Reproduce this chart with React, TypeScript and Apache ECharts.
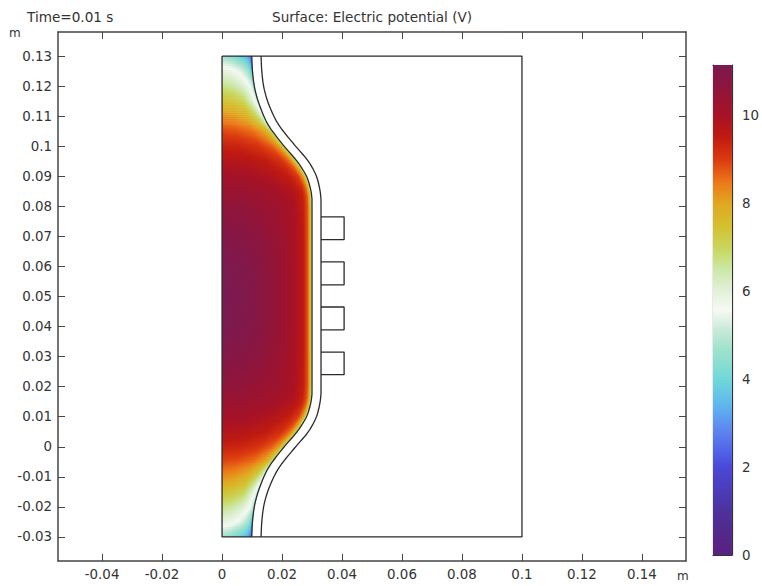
import React, { useEffect, useRef } from "react";
import * as echarts from "echarts";

const xTicks = [-0.04, -0.02, 0, 0.02, 0.04, 0.06, 0.08, 0.1, 0.12, 0.14];
const yTicks = [-0.03, -0.02, -0.01, 0, 0.01, 0.02, 0.03, 0.04, 0.05, 0.06, 0.07, 0.08, 0.09, 0.1, 0.11, 0.12, 0.13];
const barTicks = [0, 2, 4, 6, 8, 10];
const barMax = 11.16;

const mapValues = [0, 0.73, 1.33, 2, 2.32, 2.77, 3.38, 4, 4.67, 5.12, 5.58, 5.97, 6.5, 6.95, 7.48, 8, 8.47, 9, 9.53, 10, 10.75, 11.16];
const mapColors = ["#5a2080", "#502c90", "#4c38b0", "#4a48d8", "#5060e8", "#5c80f0", "#5fb4f0", "#70d8d8", "#9ee2cc", "#c8ead8", "#f6f9f2", "#e4f2dc", "#cce8a8", "#c8d860", "#d4c030", "#e0a820", "#ec7a18", "#dc3a10", "#c01a10", "#a81225", "#8a1540", "#7a1a52"];

const outerBox = [[0, 0.13], [0.1, 0.13], [0.1, -0.03], [0, -0.03], [0, 0.13]];
const innerWall = [[0.0099, 0.13], [0.0102, 0.1244], [0.011, 0.1188], [0.0127, 0.1131], [0.0154, 0.1071], [0.0199, 0.101], [0.0242, 0.096], [0.0263, 0.0932], [0.0282, 0.0899], [0.0293, 0.0866], [0.0299, 0.0833], [0.03, 0.0788], [0.03, 0.05], [0.03, 0.0212], [0.0299, 0.0167], [0.0293, 0.0134], [0.0282, 0.0101], [0.0263, 0.0068], [0.0242, 0.004], [0.0199, -0.001], [0.0154, -0.0071], [0.0127, -0.0131], [0.011, -0.0188], [0.0102, -0.0244], [0.0099, -0.03]];
const outerWall = [[0.013, 0.13], [0.0133, 0.1244], [0.0141, 0.1188], [0.0159, 0.1131], [0.0189, 0.1071], [0.0237, 0.101], [0.028, 0.096], [0.0299, 0.0932], [0.0315, 0.0899], [0.0324, 0.0866], [0.0329, 0.0833], [0.033, 0.0788], [0.033, 0.05], [0.033, 0.0212], [0.0329, 0.0167], [0.0324, 0.0134], [0.0315, 0.0101], [0.0299, 0.0068], [0.028, 0.004], [0.0237, -0.001], [0.0189, -0.0071], [0.0159, -0.0131], [0.0141, -0.0188], [0.0133, -0.0244], [0.013, -0.03]];
const coilBoxes = [[0.0689, 0.0765], [0.0539, 0.0615], [0.0389, 0.0465], [0.024, 0.0315]];
const coilLeft = 0.033;
const coilRight = 0.0407;

// Fractions of the distance from the axis (x = 0) to the inner wall
const wallFractions = [0, 0.3, 0.6, 0.8, 0.9, 0.95, 0.98, 1];
const fieldY = [0.13, 0.125, 0.12, 0.115, 0.11, 0.105, 0.1, 0.095, 0.09, 0.085, 0.08, 0.07, 0.06, 0.05, 0.04, 0.03, 0.02, 0.015, 0.01, 0.005, 0, -0.005, -0.01, -0.015, -0.02, -0.025, -0.03];
const fieldV = [
  [4.7, 4.4, 3.9, 3.5, 3.0, 2.6, 2.3, 2.0],
  [5.95, 5.8, 5.4, 4.9, 4.4, 3.9, 3.4, 2.8],
  [6.7, 6.55, 6.2, 5.75, 5.4, 5.0, 4.5, 3.8],
  [7.5, 7.35, 7.05, 6.3, 5.7, 5.35, 5.0, 4.3],
  [8.3, 8.15, 7.8, 7.1, 6.5, 6.1, 5.7, 5.2],
  [8.9, 8.8, 8.55, 8.1, 7.6, 7.1, 6.6, 6.0],
  [9.4, 9.35, 9.1, 8.7, 8.2, 7.6, 7.1, 6.3],
  [9.8, 9.75, 9.5, 9.15, 8.6, 7.9, 7.2, 6.3],
  [10.1, 10.05, 9.8, 9.45, 9.0, 8.3, 7.4, 6.3],
  [10.35, 10.3, 10.1, 9.8, 9.4, 8.7, 7.6, 6.3],
  [10.6, 10.5, 10.25, 9.95, 9.5, 8.8, 7.6, 6.3],
  [10.95, 10.8, 10.4, 10.0, 9.6, 8.8, 7.6, 6.3],
  [11.12, 10.95, 10.5, 10.05, 9.6, 8.8, 7.6, 6.3],
  [11.16, 11.0, 10.5, 10.05, 9.6, 8.8, 7.6, 6.3],
  [11.12, 10.95, 10.5, 10.05, 9.6, 8.8, 7.6, 6.3],
  [10.95, 10.8, 10.4, 10.0, 9.6, 8.8, 7.6, 6.3],
  [10.6, 10.5, 10.25, 9.95, 9.5, 8.8, 7.6, 6.3],
  [10.35, 10.3, 10.1, 9.8, 9.4, 8.7, 7.6, 6.3],
  [10.1, 10.05, 9.8, 9.45, 9.0, 8.3, 7.4, 6.3],
  [9.8, 9.75, 9.5, 9.15, 8.6, 7.9, 7.2, 6.3],
  [9.4, 9.35, 9.1, 8.7, 8.2, 7.6, 7.1, 6.3],
  [8.9, 8.8, 8.55, 8.1, 7.6, 7.1, 6.6, 6.0],
  [8.3, 8.15, 7.8, 7.1, 6.5, 6.1, 5.7, 5.2],
  [7.5, 7.35, 7.05, 6.3, 5.7, 5.35, 5.0, 4.3],
  [6.7, 6.55, 6.2, 5.75, 5.4, 5.0, 4.5, 3.8],
  [5.95, 5.8, 5.4, 4.9, 4.4, 3.9, 3.4, 2.8],
  [4.7, 4.4, 3.9, 3.5, 3.0, 2.6, 2.3, 2.0],
];

const FONT = "DejaVu Sans";
const INK = "#333";
const FRAME = "#444";
const WALL = "#2b2b2b";

const hex = (c: string) => [1, 3, 5].map((i) => parseInt(c.slice(i, i + 2), 16));
const mapRgb = mapColors.map(hex);
function colorFor(v: number) {
  const t = Math.max(0, Math.min(barMax, v));
  let i = 0;
  while (i < mapValues.length - 2 && t > mapValues[i + 1]) i++;
  const f = (t - mapValues[i]) / (mapValues[i + 1] - mapValues[i]);
  const c = mapRgb[i].map((a, k) => Math.round(a + (mapRgb[i + 1][k] - a) * f));
  return `rgb(${c[0]},${c[1]},${c[2]})`;
}
function wallAt(y: number) {
  for (let i = 0; i < innerWall.length - 1; i++) {
    const [x0, y0] = innerWall[i];
    const [x1, y1] = innerWall[i + 1];
    if (y <= y0 && y >= y1) return x0 + ((x1 - x0) * (y0 - y)) / (y0 - y1 || 1);
  }
  return y > 0.05 ? innerWall[0][0] : innerWall[innerWall.length - 1][0];
}
function fieldAt(y: number, s: number) {
  let r = 0;
  while (r < fieldY.length - 2 && y < fieldY[r + 1]) r++;
  const fy = (fieldY[r] - y) / (fieldY[r] - fieldY[r + 1]);
  let c = 0;
  while (c < wallFractions.length - 2 && s > wallFractions[c + 1]) c++;
  const fs = (s - wallFractions[c]) / (wallFractions[c + 1] - wallFractions[c]);
  const a = fieldV[r][c] + (fieldV[r][c + 1] - fieldV[r][c]) * fs;
  const b = fieldV[r + 1][c] + (fieldV[r + 1][c + 1] - fieldV[r + 1][c]) * fs;
  return a + (b - a) * fy;
}
const shadeFractions = [0, 0.1, 0.2, 0.3, 0.4, 0.5, 0.6, 0.7, 0.75, 0.8, 0.85, 0.9, 0.925, 0.95, 0.965, 0.98, 0.99, 1];

const stripCount = 240;
const stripEdges = Array.from({ length: stripCount }, (_, i) => i);

// Catmull-Rom curve through screen points, so the walls pass through every read point
function curveThrough(pts: number[][]) {
  const out: number[][] = [];
  for (let i = 0; i < pts.length - 1; i++) {
    const p0 = pts[Math.max(0, i - 1)];
    const p1 = pts[i];
    const p2 = pts[i + 1];
    const p3 = pts[Math.min(pts.length - 1, i + 2)];
    const long = Math.abs(p2[1] - p1[1]) > 30;
    const steps = long ? 1 : 8;
    for (let k = 0; k < steps; k++) {
      const t = k / steps;
      if (long) {
        out.push(p1);
        continue;
      }
      const w = (a: number, b: number, c: number, d: number) =>
        0.5 * (2 * b + (c - a) * t + (2 * a - 5 * b + 4 * c - d) * t * t + (3 * b - a - 3 * c + d) * t * t * t);
      out.push([w(p0[0], p1[0], p2[0], p3[0]), w(p0[1], p1[1], p2[1], p3[1])]);
    }
  }
  out.push(pts[pts.length - 1]);
  return out;
}

const wallSeries = (wall: number[][]) => ({
  type: "custom",
  xAxisIndex: 0,
  yAxisIndex: 0,
  silent: true,
  z: 5,
  data: wall,
  renderItem: (params: any, api: any) => {
    if (params.dataIndex !== 0) return null;
    const pts = wall.map((p) => api.coord(p));
    return {
      type: "polyline",
      shape: { points: curveThrough(pts) },
      style: { fill: "none", stroke: WALL, lineWidth: 1.3, lineJoin: "round" },
    };
  },
});

const lineSeries = (data: number[][]) => ({
  type: "line",
  data,
  showSymbol: false,
  silent: true,
  z: 5,
  lineStyle: { color: WALL, width: 1.3 },
});

const axisText = { fontFamily: FONT, fontSize: 13.4, color: INK };
const headText = { fontFamily: FONT, fontSize: 13.6, color: INK, fontWeight: "normal" };

export default function App() {
  const ref = useRef<HTMLDivElement>(null);
  useEffect(() => {
    const chart = echarts.init(ref.current!, undefined, { renderer: "svg" });
    const xA = (position: string, labels: boolean) => ({
      type: "value",
      gridIndex: 0,
      position,
      min: -0.0547,
      max: 0.1547,
      splitLine: { show: false },
      axisLine: { show: true, onZero: false, lineStyle: { color: FRAME, width: 1.5 } },
      axisTick: { show: true, inside: true, length: 7, customValues: xTicks, lineStyle: { color: FRAME, width: 1 } },
      axisLabel: { show: labels, customValues: xTicks, margin: 7, formatter: (v: number) => String(v), ...axisText, hideOverlap: false },
    });
    const yA = (position: string, labels: boolean) => ({
      type: "value",
      gridIndex: 0,
      position,
      min: -0.038,
      max: 0.138,
      splitLine: { show: false },
      axisLine: { show: true, onZero: false, lineStyle: { color: FRAME, width: 1.5 } },
      axisTick: { show: true, inside: true, length: 7, customValues: yTicks, lineStyle: { color: FRAME, width: 1 } },
      axisLabel: { show: labels, customValues: yTicks, margin: 6, formatter: (v: number) => String(v), ...axisText, hideOverlap: false },
    });
    const barX = (position: string) => ({
      type: "value",
      gridIndex: 1,
      position,
      min: 0,
      max: 1,
      splitLine: { show: false },
      axisLine: { show: true, onZero: false, lineStyle: { color: "#333", width: 1.2 } },
      axisTick: { show: false },
      axisLabel: { show: false },
    });
    const barY = (position: string, labels: boolean) => ({
      type: "value",
      gridIndex: 1,
      position,
      min: 0,
      max: barMax,
      splitLine: { show: false },
      axisLine: { show: true, onZero: false, lineStyle: { color: "#333", width: 1.2 } },
      axisTick: { show: true, inside: true, length: 3.5, customValues: barTicks.slice(1), lineStyle: { color: "#222", width: 1 } },
      axisLabel: { show: labels, customValues: barTicks, margin: 10, formatter: (v: number) => String(v), ...axisText, hideOverlap: false },
    });

    const stripData = stripEdges.map((i) => [i]);
    const option: any = {
      animation: false,
      backgroundColor: "#fff",
      title: [
        { text: "Time=0.01 s", left: 27, top: 10, padding: 0, textStyle: headText },
        { text: "Surface: Electric potential (V)", left: 272, top: 10, padding: 0, textStyle: headText },
        { text: "m", left: 9, top: 27, padding: 0, textStyle: { ...headText, fontSize: 12 } },
        { text: "m", left: 677, top: 570, padding: 0, textStyle: { ...headText, fontSize: 12 } },
      ],
      grid: [
        { left: 58, top: 32, width: 628, height: 529, show: false },
        { left: 713, top: 65, width: 19, height: 490, show: false },
      ],
      xAxis: [xA("bottom", true), xA("top", false), barX("bottom"), barX("top")],
      yAxis: [yA("left", true), yA("right", false), barY("left", false), barY("right", true)],
      series: [
        {
          type: "custom",
          xAxisIndex: 0,
          yAxisIndex: 0,
          silent: true,
          clip: false,
          z: 2,
          data: stripData,
          renderItem: (_: any, api: any) => {
            const i = api.value(0);
            const span = fieldY[0] - fieldY[fieldY.length - 1];
            const y0 = fieldY[0] - (span * i) / stripCount;
            const y1 = fieldY[0] - (span * (i + 1)) / stripCount;
            const ym = (y0 + y1) / 2;
            const a = api.coord([0, y0]);
            const b = api.coord([wallAt(y0), y0]);
            const c = api.coord([wallAt(y1), y1]);
            const d = api.coord([0, y1]);
            const bottom = i < stripCount - 1 ? 0.7 : 0;
            const xEnd = api.coord([wallAt(ym), ym])[0];
            const stops = shadeFractions.map((s) => ({ offset: s, color: colorFor(fieldAt(ym, s)) }));
            return {
              type: "polygon",
              shape: { points: [a, b, [c[0], c[1] + bottom], [d[0], d[1] + bottom]] },
              style: { fill: new echarts.graphic.LinearGradient(a[0], 0, xEnd, 0, stops, true) },
            };
          },
        },
        {
          type: "custom",
          xAxisIndex: 2,
          yAxisIndex: 2,
          silent: true,
          z: 2,
          data: [[0, barMax]],
          renderItem: (_: any, api: any) => {
            const top = api.coord([0, api.value(1)]);
            const bot = api.coord([1, api.value(0)]);
            const stops = mapValues.map((v, k) => ({ offset: v / barMax, color: mapColors[k] }));
            return {
              type: "rect",
              shape: { x: top[0], y: top[1], width: bot[0] - top[0], height: bot[1] - top[1] },
              style: { fill: new echarts.graphic.LinearGradient(0, 1, 0, 0, stops) },
            };
          },
        },
        lineSeries(outerBox),
        wallSeries(innerWall),
        wallSeries(outerWall),
        ...coilBoxes.map(([lo, hi]) =>
          lineSeries([[coilLeft, lo], [coilRight, lo], [coilRight, hi], [coilLeft, hi]])
        ),
      ],
    };
    chart.setOption(option);
    return () => chart.dispose();
  }, []);
  return <div ref={ref} style={{ position: "absolute", left: 0, top: 0, width: 762, height: 586 }} />;
}
